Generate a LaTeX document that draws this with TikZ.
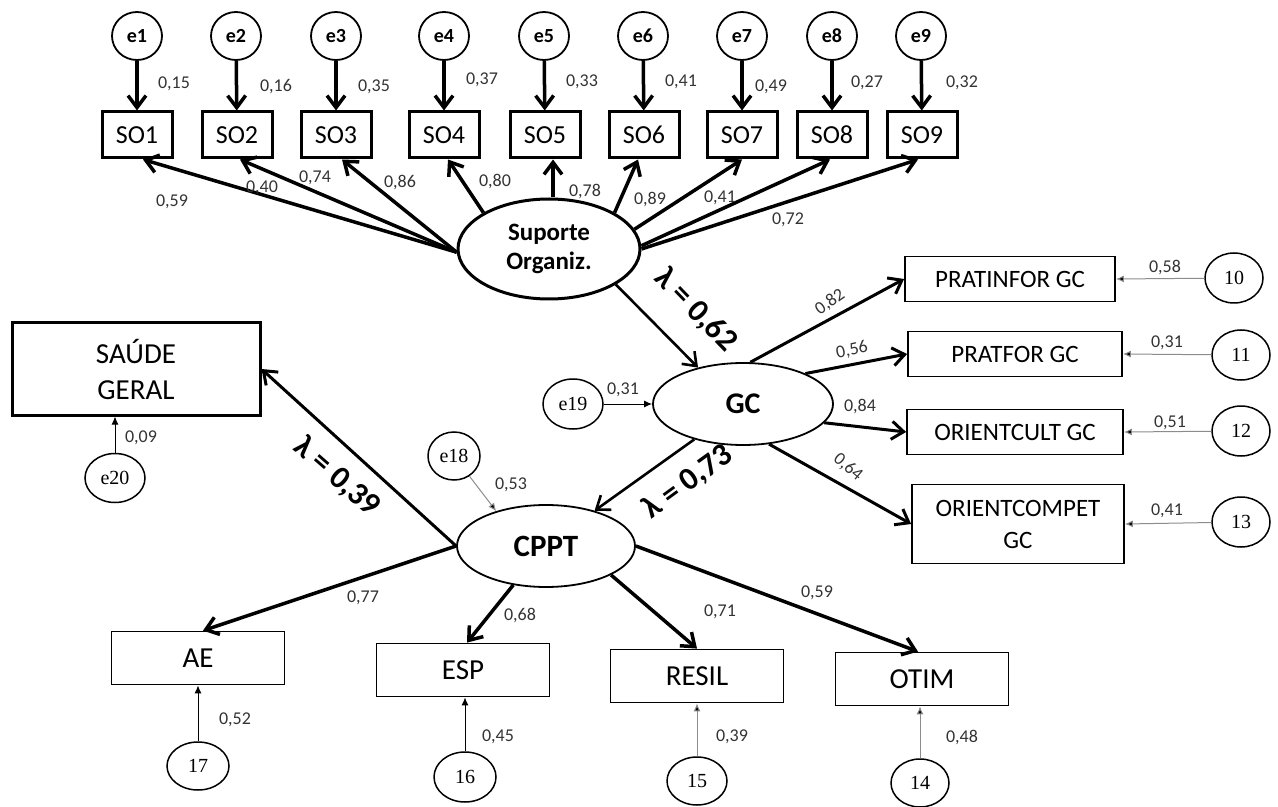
\documentclass[tikz,border=0pt]{standalone}
\usepackage{fontspec}
\setmainfont{Carlito}
\newfontfamily\numfont{Liberation Serif}
\usepackage{tikz}
\usetikzlibrary{arrows.meta,shapes.geometric}

\begin{document}
\begin{tikzpicture}[x=0.5pt,y=-0.5pt,>={Straight Barb[length=6pt,width=9pt]},
    so/.style={draw,line width=1.5pt,minimum width=35pt,minimum height=23pt,inner sep=0pt,font=\fontsize{13}{15}\selectfont},
    gcbox/.style={draw,line width=0.9pt,minimum width=105pt,minimum height=22.5pt,inner sep=0pt,align=center,font=\fontsize{12.5}{16}\selectfont},
    ppbox/.style={draw,line width=0.9pt,minimum width=86.5pt,minimum height=26.5pt,inner sep=0pt,font=\fontsize{14.5}{18}\selectfont},
    erro/.style={draw,ellipse,line width=0.9pt,minimum width=25pt,minimum height=24pt,inner sep=0pt,font=\bfseries\fontsize{10}{12}\selectfont},
    res/.style={draw,ellipse,line width=0.75pt,minimum width=29pt,minimum height=25pt,inner sep=0pt,font=\numfont\fontsize{10}{12}\selectfont},
    latente/.style={draw,ellipse,line width=0.9pt,inner sep=0pt,align=center,font=\bfseries},
    coef/.style={inner sep=0pt,text=black!80,font=\fontsize{9}{11}\selectfont},
    lambda/.style={inner sep=0pt,font=\bfseries\fontsize{16}{18}\selectfont},
    carga/.style={->,line width=1.75pt},
    via/.style={->,line width=1.3pt},
    resid/.style={-{Latex[length=4pt,width=3.5pt]},line width=0.5pt},
    residc/.style={resid,draw=black!45}]
  \useasboundingbox (0,0) rectangle (1278,807);

  % suporte organizacional
  \node (e1) [erro] at (137,36) {e1};
  \node (e2) [erro] at (236,36) {e2};
  \node (e3) [erro] at (336,36) {e3};
  \node (e4) [erro] at (444,36) {e4};
  \node (e5) [erro] at (544,36) {e5};
  \node (e6) [erro] at (643,36) {e6};
  \node (e7) [erro] at (742,36) {e7};
  \node (e8) [erro] at (832,36) {e8};
  \node (e9) [erro] at (921,36) {e9};

  \node (so1) [so] at (137,135) {SO1};
  \node (so2) [so] at (237,135) {SO2};
  \node (so3) [so] at (336,135) {SO3};
  \node (so4) [so] at (444,135) {SO4};
  \node (so5) [so] at (545,135) {SO5};
  \node (so6) [so] at (644,135) {SO6};
  \node (so7) [so] at (742,135) {SO7};
  \node (so8) [so] at (832,135) {SO8};
  \node (so9) [so] at (922,135) {SO9};

  \node (sup) [latente,line width=1.5pt,minimum width=91pt,minimum height=50pt,
    font=\bfseries\fontsize{12.5}{14.5}\selectfont] at (549,249) {Suporte\\Organiz.};

  % fatores latentes
  \node (gc) [latente,minimum width=90pt,minimum height=41pt,font=\bfseries\fontsize{15}{18}\selectfont] at (743,404) {GC};
  \node (cppt) [latente,minimum width=89pt,minimum height=41pt,font=\bfseries\fontsize{15.5}{18}\selectfont] at (546,546) {CPPT};
  \node (e19) [res,minimum width=30pt] at (573,404) {e19};
  \node (e18) [res,minimum width=26pt,minimum height=24pt] at (454,456) {e18};

  % gestao do conhecimento
  \node (pinf) [gcbox] at (1010,279) {PRATINFOR GC};
  \node (pfor) [gcbox,minimum width=107pt] at (1015,354) {PRATFOR GC};
  \node (ocul) [gcbox,minimum width=108pt] at (1015,432) {ORIENTCULT GC};
  \node (ocomp) [gcbox,minimum width=106pt,minimum height=39.5pt] at (1018,524) {ORIENTCOMPET\\GC};
  \node (r10) [res] at (1234,278) {10};
  \node (r11) [res] at (1241,355) {11};
  \node (r12) [res] at (1241,431) {12};
  \node (r13) [res] at (1241,522) {13};

  % saude e capital psicologico
  \node (saude) [draw,line width=1.5pt,minimum width=124pt,minimum height=46pt,inner sep=0pt,align=center,
    font=\fontsize{14.5}{18}\selectfont] at (136,369) {SAÚDE\\GERAL};
  \node (e20) [res,minimum width=30pt,minimum height=24.5pt] at (115,478) {e20};

  \node (ae) [ppbox] at (198,658) {AE};
  \node (esp) [ppbox] at (463,670) {ESP};
  \node (resil) [ppbox] at (697,676) {RESIL};
  \node (otim) [ppbox] at (922,679) {OTIM};
  \node (r17) [res,minimum width=31pt,minimum height=24pt] at (198,766) {17};
  \node (r16) [res,minimum width=31pt] at (465,777) {16};
  \node (r15) [res,minimum width=30pt,minimum height=24pt] at (697,781) {15};
  \node (r14) [res,minimum width=29pt,minimum height=24pt] at (920,783) {14};

  % setas
  \path[carga] (e1) edge (so1);
  \path[carga] (e2) edge (so2);
  \path[carga] (e3) edge (so3);
  \path[carga] (e4) edge (so4);
  \path[carga] (e5) edge (so5);
  \path[carga] (e6) edge (so6);
  \path[carga] (e7) edge (so7);
  \path[carga] (e8) edge (so8);
  \path[carga] (e9) edge (so9);

  \path[carga] (sup.182) edge ([xshift=3pt]so1.south);
  \path[carga] (sup.182) edge ([xshift=1.5pt]so2.south);
  \path[carga] (sup.182) edge ([xshift=3pt]so3.south);
  \path[carga] (sup.151) edge ([xshift=2pt]so4.south);
  \path[carga] ([xshift=2pt]sup.north) edge ([xshift=2pt]sup.north |- so5.south);
  \path[carga] (sup.29) edge ([xshift=-3pt]so6.south);
  \path[carga] (sup.13) edge (so7.south);
  \path[carga] (sup.2) edge ([xshift=-1pt]so8.south);
  \path[carga] (sup.0) edge ([xshift=-2pt]so9.south);

  \path[via] (sup.332) edge (gc.141);
  \path[resid] (e19) edge (gc);
  \path[carga,line width=1.5pt] (gc.80) edge (pinf.west);
  \path[carga,line width=1.5pt] (gc.26) edge (pfor.west);
  \path[carga,line width=1.5pt] (gc.-13) edge (ocul.west);
  \path[carga,line width=1.5pt] (gc.-57) edge (ocomp.west);
  \path[residc] (r10) edge (pinf.east);
  \path[residc] (r11) edge (pfor.east);
  \path[residc] (r12) edge (ocul.east);
  \path[residc] (r13) edge (ocomp.east);

  \path[via] (gc.216) edge (cppt.36);
  \path[residc] (e18) edge (cppt.145);
  \path[via,line width=1.5pt] (cppt.west) edge (saude.east);
  \path[resid] (e20) edge (e20 |- saude.south);

  \path[carga] (cppt.west) edge ([xshift=2.5pt]ae.north);
  \path[carga] (cppt.230) edge ([xshift=2pt]esp.north);
  \path[carga] (cppt.336) edge (resil.north);
  \path[carga] (cppt.east) edge ([xshift=-2pt]otim.north);
  \path[resid] (r17) edge (ae);
  \path[resid] (r16) edge (r16 |- esp.south);
  \path[residc] (r15) edge (resil);
  \path[residc] (r14) edge (r14 |- otim.south);

  % coeficientes
  \node (p1) [coef] at (174,84) {0,15};
  \node (p2) [coef] at (276,87) {0,16};
  \node (p3) [coef] at (374,87) {0,35};
  \node (p4) [coef] at (482,80) {0,37};
  \node (p5) [coef] at (582,82) {0,33};
  \node (p6) [coef] at (681,82) {0,41};
  \node (p7) [coef] at (771,87) {0,49};
  \node (p8) [coef] at (867,83) {0,27};
  \node (p9) [coef] at (962,83) {0,32};

  \node (s1) [coef] at (172,202) {0,59};
  \node (s2) [coef] at (262,188) {0,40};
  \node (s3) [coef] at (315,178) {0,74};
  \node (s4) [coef] at (400,183) {0,86};
  \node (s5) [coef] at (495,182) {0,80};
  \node (s6) [coef] at (585,192) {0,78};
  \node (s7) [coef] at (650,200) {0,89};
  \node (s8) [coef] at (720,198) {0,41};
  \node (s9) [coef] at (788,220) {0,72};

  \node (l62) [lambda,rotate=-46] at (696,310) {λ = 0,62};
  \node (l73) [lambda,rotate=36] at (688,482) {λ = 0,73};
  \node (l39) [lambda,rotate=-41] at (337,477) {λ = 0,39};

  \node (g19) [coef] at (623,390) {0,31};
  \node (g1) [coef,rotate=35] at (830,302) {0,82};
  \node (g2) [coef,rotate=12] at (852,350) {0,56};
  \node (g3) [coef] at (860,407) {0,84};
  \node (g4) [coef,rotate=-40] at (848,467) {0,64};
  \node (g10) [coef] at (1165,268) {0,58};
  \node (g11) [coef] at (1167,343) {0,31};
  \node (g12) [coef] at (1170,423) {0,51};
  \node (g13) [coef] at (1167,511) {0,41};

  \node (c18) [coef] at (511,485) {0,53};
  \node (c20) [coef] at (141,438) {0,09};
  \node (c1) [coef] at (363,598) {0,77};
  \node (c2) [coef] at (520,615) {0,68};
  \node (c3) [coef] at (720,612) {0,71};
  \node (c4) [coef] at (817,593) {0,59};
  \node (c17) [coef] at (235,720) {0,52};
  \node (c16) [coef] at (498,737) {0,45};
  \node (c15) [coef] at (732,737) {0,39};
  \node (c14) [coef] at (962,737) {0,48};
\end{tikzpicture}
\end{document}
